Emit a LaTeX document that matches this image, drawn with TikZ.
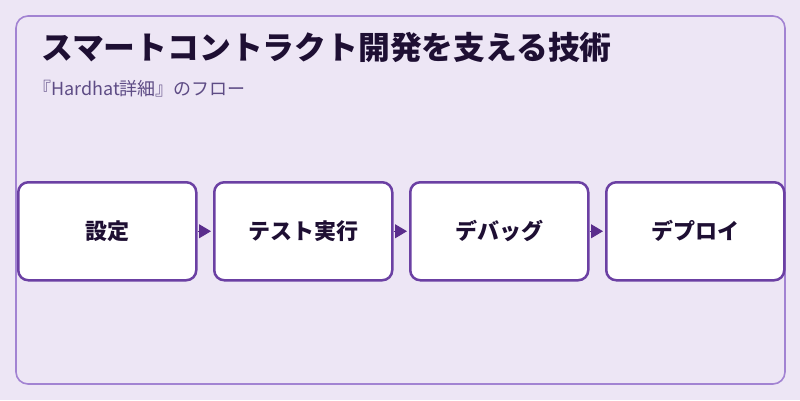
\documentclass[tikz,border=0pt]{standalone}
\usepackage{fontspec}
\setmainfont{Noto Sans CJK JP}
\newfontfamily\jpfont{Noto Sans CJK JP}
\usetikzlibrary{arrows.meta}
\definecolor{bgc}{HTML}{EDE6F5}
\definecolor{framec}{HTML}{A283D2}
\definecolor{boxc}{HTML}{6B40A3}
\definecolor{arrc}{HTML}{5A2D8C}
\definecolor{titlec}{HTML}{1E0F33}
\definecolor{subc}{HTML}{5E4C85}
\tikzset{
  stepbox/.style={draw=boxc, line width=2.5pt, fill=white, rounded corners=10pt,
    minimum width=178pt, minimum height=98pt, inner sep=0pt, anchor=north west,
    font=\jpfont\fontsize{22}{26}\selectfont\bfseries, text=titlec},
  flowarrow/.style={draw=arrc, line width=1pt, -{Triangle[length=12pt,width=14pt]}, shorten >=2pt}
}
\begin{document}
\begin{tikzpicture}[x=1pt,y=-1pt]
\useasboundingbox (0,0) rectangle (800,400);
\fill[bgc] (0,0) rectangle (800,400);
\draw[framec, line width=1.6pt, rounded corners=12pt] (16,16) rectangle (785,384);
\node[anchor=base west, inner sep=0pt, text=titlec, font=\jpfont\fontsize{31.8}{36}\selectfont\bfseries] (title) at (41,59) {スマートコントラクト開発を支える技術};
\node[anchor=base west, inner sep=0pt, text=subc, font=\jpfont\fontsize{18}{22}\selectfont] (sub) at (33,95) {『Hardhat詳細』のフロー};
\node[stepbox] (b1) at (17,181) {設定};
\node[stepbox] (b2) at (213,181) {テスト実行};
\node[stepbox] (b3) at (409,181) {デバッグ};
\node[stepbox] (b4) at (605,181) {デプロイ};
\draw[flowarrow] (b1.east) -- (b2.west);
\draw[flowarrow] (b2.east) -- (b3.west);
\draw[flowarrow] (b3.east) -- (b4.west);
\end{tikzpicture}
\end{document}
